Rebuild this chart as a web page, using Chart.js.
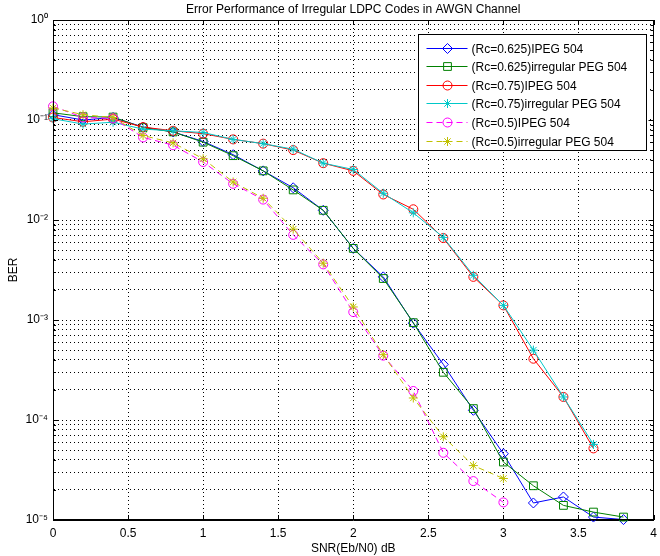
<!DOCTYPE html>
<html>
<head>
<meta charset="utf-8">
<script src="https://cdn.jsdelivr.net/npm/chart.js@4.4.0/dist/chart.umd.min.js"></script>
<style>
  html, body { margin: 0; padding: 0; background: #fff; }
</style>
</head>
<body>
<canvas id="ber" width="660" height="556"></canvas>
<script>
// SNR points (dB)
const snr = [0, 0.2, 0.4, 0.6, 0.8, 1.0, 1.2, 1.4, 1.6, 1.8, 2.0, 2.2, 2.4, 2.6, 2.8, 3.0, 3.2, 3.4, 3.6, 3.8];

// BER
const ber_625_ipeg = [0.113, 0.100, 0.106, 0.085, 0.076, 0.061, 0.045, 0.031, 0.021, 0.0125, 0.0052, 0.0027, 0.00093, 0.00036, 0.000125, 0.000046, 0.0000148, 0.000017, 0.0000107, 0.0000101];
const ber_625_irr  = [0.118, 0.108, 0.107, 0.084, 0.076, 0.060, 0.044, 0.031, 0.020, 0.0125, 0.0052, 0.0026, 0.00094, 0.00030, 0.00013, 0.000038, 0.000022, 0.000014, 0.000012, 0.0000107];
const ber_75_ipeg  = [0.106, 0.096, 0.102, 0.085, 0.078, 0.073, 0.064, 0.058, 0.050, 0.037, 0.031, 0.018, 0.0128, 0.0066, 0.0027, 0.0014, 0.00041, 0.00017, 0.000052];
const ber_75_irr   = [0.103, 0.091, 0.095, 0.081, 0.078, 0.075, 0.064, 0.058, 0.051, 0.037, 0.032, 0.0185, 0.0118, 0.0067, 0.0028, 0.0014, 0.00050, 0.00017, 0.000057];
const ber_5_ipeg   = [0.137, 0.106, 0.104, 0.067, 0.056, 0.038, 0.023, 0.016, 0.0071, 0.0036, 0.0012, 0.00044, 0.000195, 0.000047, 0.0000245, 0.000015];
const ber_5_irr    = [0.132, 0.113, 0.106, 0.070, 0.059, 0.041, 0.024, 0.0165, 0.0081, 0.0037, 0.00135, 0.00045, 0.000166, 0.000068, 0.000035, 0.000026];

const seriesNames = [
  '(Rc=0.625)IPEG 504',
  '(Rc=0.625)irregular PEG 504',
  '(Rc=0.75)IPEG 504',
  '(Rc=0.75)irregular PEG 504',
  '(Rc=0.5)IPEG 504',
  '(Rc=0.5)irregular PEG 504'
];

// axis ticks
const xTicks = [0, 0.5, 1, 1.5, 2, 2.5, 3, 3.5, 4];
const yDecades = [1e-5, 1e-4, 1e-3, 1e-2, 1e-1, 1];
const yMinorSteps = [2, 3, 4, 5, 6, 7, 8, 9];

const FONT = "'Liberation Sans', Arial, sans-serif";
const colors = ['#0000ff', '#008000', '#ff0000', '#00c8c8', '#ff00ff', '#c0c000'];
const markers = ['rectRot', 'rect', 'circle', 'star', 'circle', 'star'];
const markerSize = [5, 5.5, 4.5, 4.5, 4.5, 4.5];
const dashes = [[], [], [], [], [6, 4], [6, 4]];

function pairs(ys) {
  return ys.map((v, i) => ({ x: snr[i], y: v }));
}

function isDecade(v) {
  const e = Math.log10(v);
  return Math.abs(e - Math.round(e)) < 1e-6;
}

const sup = { '0': '\u2070', '1': '\u00b9', '2': '\u00b2', '3': '\u00b3', '4': '\u2074', '5': '\u2075', '-': '\u207b' };
function powLabel(v) {
  const e = String(Math.round(Math.log10(v)));
  return '10' + e.split('').map(c => sup[c]).join('');
}

function yTickList() {
  const out = [];
  yDecades.forEach(d => {
    out.push(d);
    if (d < 1) yMinorSteps.forEach(m => out.push(d * m));
  });
  return out;
}

function mkSet(i, data) {
  return {
    label: seriesNames[i],
    data: pairs(data),
    borderColor: colors[i],
    backgroundColor: 'rgba(0,0,0,0)',
    borderWidth: 1,
    borderDash: dashes[i],
    pointStyle: markers[i],
    pointRadius: markerSize[i],
    pointBorderColor: colors[i],
    pointBackgroundColor: 'rgba(0,0,0,0)',
    pointBorderWidth: 1,
    tension: 0,
    clip: 6,
    order: 5 - i
  };
}

// inward tick marks + box around the axes, like matlab
const frameTicks = {
  id: 'frameTicks',
  afterDatasetsDraw(chart) {
    const { ctx, chartArea: a, scales: { x, y } } = chart;
    ctx.save();
    ctx.strokeStyle = '#000';
    ctx.lineWidth = 1;
    ctx.setLineDash([]);
    ctx.beginPath();
    x.ticks.forEach(t => {
      const px = Math.round(x.getPixelForValue(t.value)) + 0.5;
      ctx.moveTo(px, a.bottom); ctx.lineTo(px, a.bottom - 5);
      ctx.moveTo(px, a.top); ctx.lineTo(px, a.top + 5);
    });
    y.ticks.forEach(t => {
      const py = Math.round(y.getPixelForValue(t.value)) + 0.5;
      const len = isDecade(t.value) ? 5 : 3;
      ctx.moveTo(a.left, py); ctx.lineTo(a.left + len, py);
      ctx.moveTo(a.right, py); ctx.lineTo(a.right - len, py);
    });
    ctx.stroke();
    ctx.strokeRect(Math.round(a.left) + 0.5, Math.round(a.top) + 0.5,
      Math.round(a.right - a.left) - 1, Math.round(a.bottom - a.top) - 1);
    ctx.restore();
  }
};

// title over the plot area + legend box in the upper right
const titleAndLegend = {
  id: 'titleAndLegend',
  afterDraw(chart) {
    const { ctx, chartArea: a } = chart;
    ctx.save();
    ctx.fillStyle = '#000';
    ctx.font = '12px ' + FONT;
    ctx.textAlign = 'center';
    ctx.textBaseline = 'middle';
    ctx.fillText('Error Performance of Irregular LDPC Codes in AWGN Channel', (a.left + a.right) / 2, 10);

    const bx = 418.5, by = 34.5, bw = 228, bh = 116, rowH = 18.6;
    ctx.fillStyle = '#fff';
    ctx.fillRect(bx, by, bw, bh);
    ctx.strokeStyle = '#000';
    ctx.lineWidth = 1;
    ctx.strokeRect(bx, by, bw, bh);

    seriesNames.forEach((name, i) => {
      const cy = Math.round(by + 13 + i * rowH) + 0.5;
      ctx.lineWidth = 1;
      ctx.strokeStyle = colors[i];
      ctx.setLineDash(dashes[i]);
      ctx.beginPath();
      ctx.moveTo(bx + 8, cy);
      ctx.lineTo(bx + 49, cy);
      ctx.stroke();
      ctx.setLineDash([]);
      ctx.fillStyle = 'rgba(0,0,0,0)';
      ctx.strokeStyle = colors[i];
      Chart.helpers.drawPoint(ctx, {
        pointStyle: markers[i], radius: markerSize[i], rotation: 0, borderWidth: 1
      }, bx + 29, cy);
      ctx.fillStyle = '#000';
      ctx.textAlign = 'left';
      ctx.font = '12px ' + FONT;
      ctx.fillText(name, bx + 53, cy + 1);
    });
    ctx.restore();
  }
};

new Chart(document.getElementById('ber'), {
  type: 'line',
  data: {
    datasets: [
      mkSet(0, ber_625_ipeg),
      mkSet(1, ber_625_irr),
      mkSet(2, ber_75_ipeg),
      mkSet(3, ber_75_irr),
      mkSet(4, ber_5_ipeg),
      mkSet(5, ber_5_irr)
    ]
  },
  options: {
    responsive: false,
    animation: false,
    devicePixelRatio: 1,
    layout: { padding: { top: 20, right: 2, left: 0, bottom: 0 } },
    plugins: {
      legend: { display: false },
      tooltip: { enabled: false },
      title: { display: false }
    },
    scales: {
      x: {
        type: 'linear',
        min: 0,
        max: 4,
        afterBuildTicks: s => { s.ticks = xTicks.map(v => ({ value: v })); },
        afterFit: s => { s.height = 36; s.paddingRight = 0; s.paddingLeft = 0; },
        grid: { color: '#000', lineWidth: 1, drawTicks: false },
        border: { display: true, color: '#000', dash: [1, 3] },
        ticks: {
          color: '#000', padding: 6, maxRotation: 0,
          font: { family: FONT, size: 12 },
          callback: v => String(v)
        },
        title: { display: true, text: 'SNR(Eb/N0) dB', color: '#000', padding: 0, font: { family: FONT, size: 12 } }
      },
      y: {
        type: 'logarithmic',
        min: 1e-5,
        max: 1,
        afterBuildTicks: s => { s.ticks = yTickList().map(v => ({ value: v })); },
        afterFit: s => { s.width = 53; },
        grid: { color: '#000', lineWidth: 1, drawTicks: false },
        border: { display: true, color: '#000', dash: [1, 3] },
        ticks: {
          color: '#000',
          padding: 5,
          autoSkip: false,
          font: { family: FONT, size: 12 },
          callback: v => isDecade(v) ? powLabel(v) : ''
        },
        title: { display: true, text: 'BER', color: '#000', padding: 6, font: { family: FONT, size: 12 } }
      }
    }
  },
  plugins: [frameTicks, titleAndLegend]
});
</script>
</body>
</html>
